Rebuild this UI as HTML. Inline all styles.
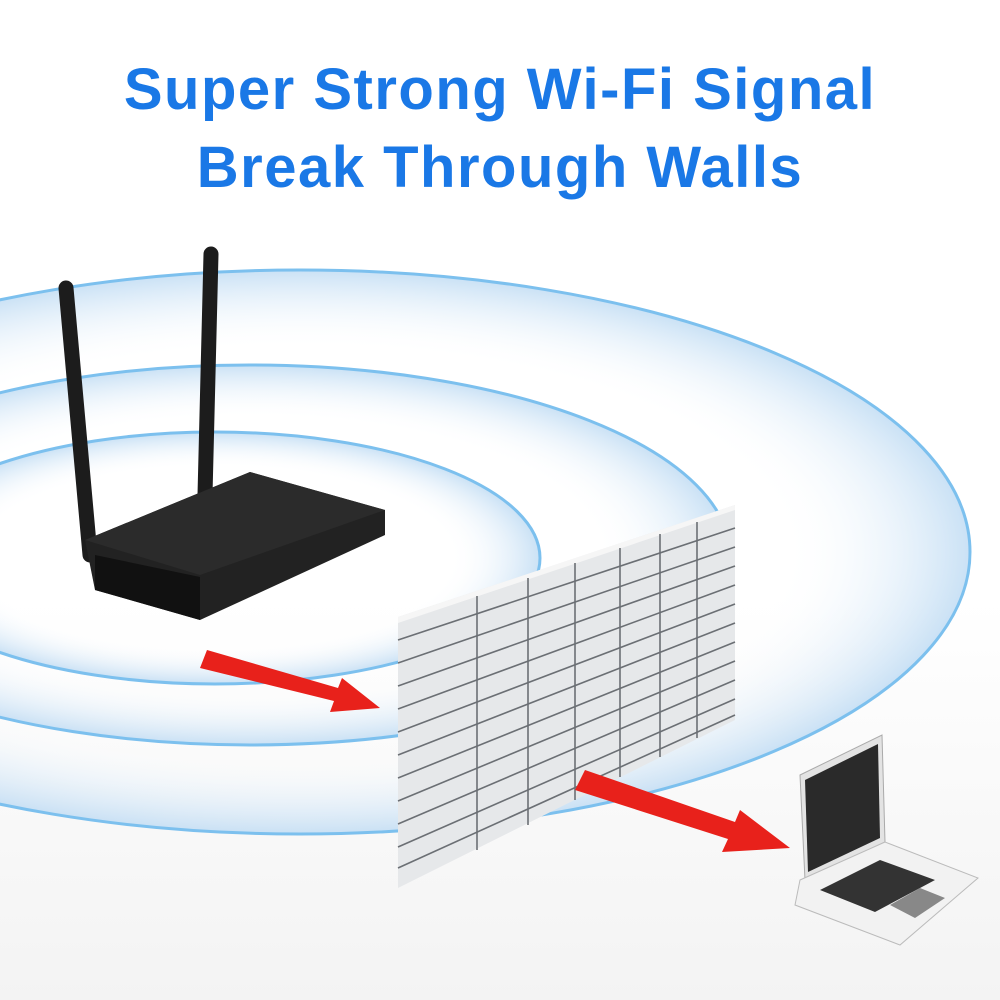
<!DOCTYPE html>
<html><head><style>
html,body{margin:0;padding:0;background:#fff;}
.t{position:absolute;left:0;width:1000px;text-align:center;font-family:"Liberation Sans",sans-serif;font-weight:bold;color:#1a78e6;font-size:58px;letter-spacing:1.5px;}
</style></head><body>
<div style="position:relative;width:1000px;height:1000px;overflow:hidden;">
<svg width="1000" height="1000" style="position:absolute;left:0;top:0">
<defs>
<radialGradient id="g1" cx="0.5" cy="0.5" r="0.5">
<stop offset="0.72" stop-color="#fff" stop-opacity="0"/>
<stop offset="1" stop-color="#c4def4" stop-opacity="0.9"/>
</radialGradient>
<linearGradient id="fl" x1="0" y1="0" x2="0" y2="1">
<stop offset="0" stop-color="#fff"/><stop offset="1" stop-color="#f3f3f3"/>
</linearGradient>
</defs>
<rect x="0" y="600" width="1000" height="400" fill="url(#fl)"/>
<ellipse cx="300" cy="552" rx="670" ry="282" fill="url(#g1)" stroke="#7cc0ee" stroke-width="3"/>
<ellipse cx="250" cy="555" rx="480" ry="190" fill="url(#g1)" stroke="#7cc0ee" stroke-width="3"/>
<ellipse cx="215" cy="558" rx="325" ry="126" fill="url(#g1)" stroke="#7cc0ee" stroke-width="3"/>
<!-- wall -->
<polygon points="398,617 735,505 735,720 398,888" fill="#e6e8ea"/>
<polygon points="398,617 735,505 735,510 398,623" fill="#f6f6f6"/>
<g stroke="#6b6f74" stroke-width="1.6">
<line x1="398" y1="640" x2="735" y2="528"/>
<line x1="398" y1="663" x2="735" y2="547"/>
<line x1="398" y1="686" x2="735" y2="566"/>
<line x1="398" y1="709" x2="735" y2="585"/>
<line x1="398" y1="732" x2="735" y2="604"/>
<line x1="398" y1="755" x2="735" y2="623"/>
<line x1="398" y1="778" x2="735" y2="642"/>
<line x1="398" y1="801" x2="735" y2="661"/>
<line x1="398" y1="824" x2="735" y2="680"/>
<line x1="398" y1="847" x2="735" y2="699"/>
<line x1="398" y1="868" x2="735" y2="715"/>
<line x1="477" y1="596" x2="477" y2="850"/>
<line x1="528" y1="578" x2="528" y2="825"/>
<line x1="575" y1="563" x2="575" y2="800"/>
<line x1="620" y1="548" x2="620" y2="777"/>
<line x1="660" y1="534" x2="660" y2="757"/>
<line x1="697" y1="522" x2="697" y2="738"/>
</g>
<!-- arrows -->
<polygon points="200,668 207,650 338,688 342,678 380,708 330,712 334,701" fill="#e8211b"/>
<polygon points="575,790 585,770 735,822 740,810 790,848 722,852 728,839" fill="#e8211b"/>
<!-- router -->
<line x1="66" y1="288" x2="90" y2="555" stroke="#1c1c1c" stroke-width="15" stroke-linecap="round"/>
<line x1="211" y1="254" x2="205" y2="495" stroke="#1c1c1c" stroke-width="15" stroke-linecap="round"/>
<polygon points="85,540 250,472 385,510 385,535 200,620 95,590" fill="#222"/>
<polygon points="85,540 250,472 385,510 200,575" fill="#2b2b2b"/>
<polygon points="95,555 200,577 200,620 95,590" fill="#111"/>
<!-- laptop -->
<polygon points="800,775 882,735 885,842 805,880" fill="#e3e3e3" stroke="#aaa"/>
<polygon points="805,780 878,744 880,838 808,872" fill="#2a2a2a"/>
<polygon points="800,880 885,842 978,878 900,945 795,905" fill="#f2f2f2" stroke="#bbb"/>
<polygon points="820,890 880,860 935,880 875,912" fill="#333"/>
<polygon points="890,905 920,888 945,898 915,918" fill="#888"/>
</svg>
<div class="t" style="top:56px">Super Strong Wi-Fi Signal</div>
<div class="t" style="top:134px">Break Through Walls</div>
</div>
</body></html>
